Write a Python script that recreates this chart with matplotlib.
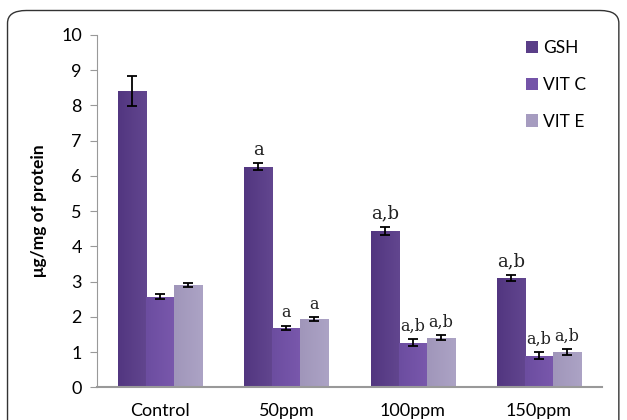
import numpy as np
import matplotlib.pyplot as plt
from matplotlib.patches import FancyBboxPatch
from matplotlib.colors import LinearSegmentedColormap

plt.rcParams['font.family'] = ['Lato', 'DejaVu Sans']

groups = ["Control", "50ppm", "100ppm", "150ppm"]
series = ["GSH", "VIT C", "VIT E"]
gsh = [8.41, 6.26, 4.44, 3.10]
vitc = [2.57, 1.69, 1.26, 0.89]
vite = [2.90, 1.93, 1.40, 1.00]
gsh_err = [0.43, 0.10, 0.12, 0.09]
vitc_err = [0.07, 0.06, 0.10, 0.10]
vite_err = [0.06, 0.06, 0.07, 0.08]
gsh_lbl = ["", "a", "a,b", "a,b"]
vitc_lbl = ["", "a", "a,b", "a,b"]
vite_lbl = ["", "a", "a,b", "a,b"]

values = [gsh, vitc, vite]
errors = [gsh_err, vitc_err, vite_err]
labels = [gsh_lbl, vitc_lbl, vite_lbl]
colors = ["#5a3e88", "#7454a8", "#a69cc0"]
# left edge / right edge shades for the gradient fill
shades = [("#523680", "#62468f"), ("#6c4da0", "#7958ac"), ("#a096ba", "#aca3c5")]

fig = plt.figure(figsize=(6.27, 4.2), dpi=100)
fig.patches.append(FancyBboxPatch((0.012, -0.1), 0.975, 1.075,
                                  boxstyle="round,pad=0,rounding_size=0.03",
                                  transform=fig.transFigure, fill=False,
                                  edgecolor="#333333", linewidth=1.0))
ax = fig.add_axes([0.155, 0.078, 0.805, 0.839])

x = np.arange(len(groups))
w = 0.222
for i, (vals, errs, lbls) in enumerate(zip(values, errors, labels)):
    pos = x + (i - 1) * w
    bars = ax.bar(pos, vals, w, color=colors[i], label=series[i], zorder=2)
    cmap = LinearSegmentedColormap.from_list("g%d" % i, shades[i])
    for b in bars:
        bx, by = b.get_x(), b.get_y()
        im = ax.imshow(np.linspace(0, 1, 50).reshape(1, -1), cmap=cmap,
                       extent=[bx, bx + b.get_width(), by, by + b.get_height()],
                       aspect="auto", zorder=2.1)
        im.set_clip_path(b)
    ax.errorbar(pos, vals, yerr=errs, fmt="none", ecolor="black",
                elinewidth=1.3, capsize=3.5, capthick=1.3, zorder=3)
    for p, v, e, t in zip(pos, vals, errs, lbls):
        if t:
            ax.text(p, v + e + 0.12, t, ha="center", va="bottom",
                    fontsize=13 if i == 0 else 11.5, family="DejaVu Serif",
                    color="#222222")

ax.set_xlim(-0.5, 3.5)
ax.set_ylim(0, 10)
ax.set_yticks(range(0, 11))
ax.set_xticks(x)
ax.set_xticklabels(groups, fontsize=13)
ax.tick_params(axis="y", labelsize=13, length=5, color="#999999", pad=6)
ax.tick_params(axis="x", length=0, pad=11)
for s in ["top", "right"]:
    ax.spines[s].set_visible(False)
ax.spines["left"].set_color("#999999")
ax.spines["bottom"].set_color("#999999")
ax.spines["bottom"].set_linewidth(1.5)
ax.set_ylabel("μg/mg of protein", fontsize=12.5, fontweight="bold", labelpad=10)

ax.legend(loc="upper right", bbox_to_anchor=(1.0, 1.03), frameon=False,
          fontsize=12.5, handlelength=0.7, handleheight=0.7, labelspacing=1.2,
          handletextpad=0.3)

fig.savefig("out.png", dpi=100)
